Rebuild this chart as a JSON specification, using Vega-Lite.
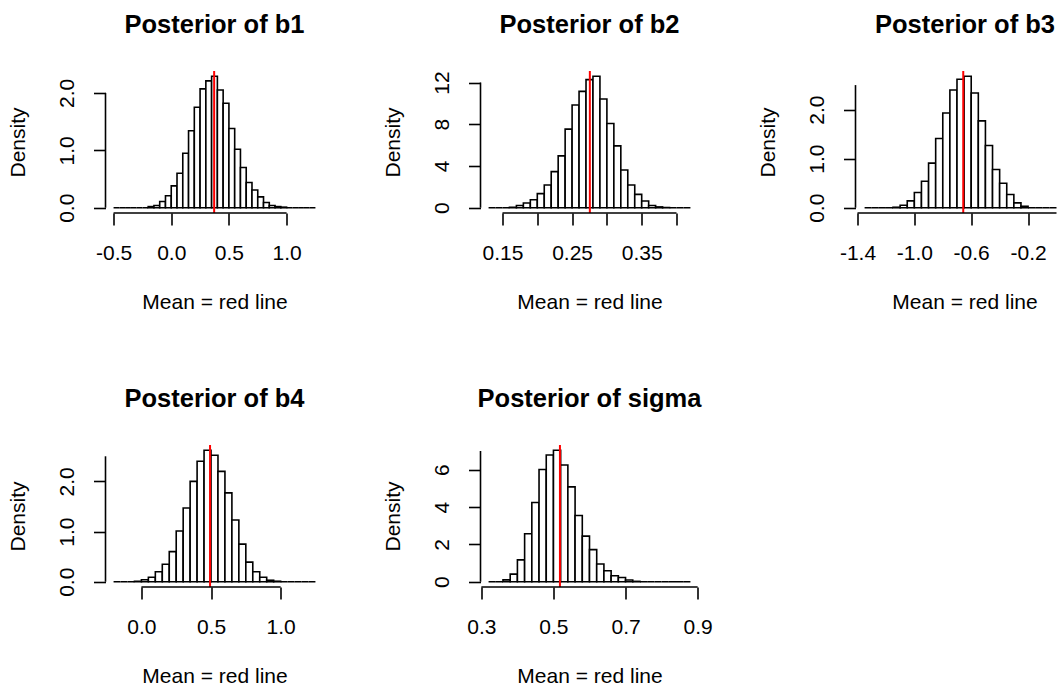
{
  "$schema": "https://vega.github.io/schema/vega-lite/v6.json",
  "background": "#ffffff",
  "padding": {"left": 6.5, "top": 12, "right": 0, "bottom": 0},
  "autosize": {"type": "pad"},
  "datasets": {
    "means": [
      {"param": "b1", "mean": 0.372},
      {"param": "b2", "mean": 0.2755},
      {"param": "b3", "mean": -0.656},
      {"param": "b4", "mean": 0.493},
      {"param": "sigma", "mean": 0.518}
    ],
    "b1": [
      {"start": -0.5, "end": -0.45, "density": 0},
      {"start": -0.45, "end": -0.4, "density": 0},
      {"start": -0.4, "end": -0.35, "density": 0},
      {"start": -0.35, "end": -0.3, "density": 0},
      {"start": -0.3, "end": -0.25, "density": 0},
      {"start": -0.25, "end": -0.2, "density": 0},
      {"start": -0.2, "end": -0.15, "density": 0.02},
      {"start": -0.15, "end": -0.1, "density": 0.04},
      {"start": -0.1, "end": -0.05, "density": 0.11},
      {"start": -0.05, "end": 0.0, "density": 0.21},
      {"start": 0.0, "end": 0.05, "density": 0.38},
      {"start": 0.05, "end": 0.1, "density": 0.6},
      {"start": 0.1, "end": 0.15, "density": 0.95},
      {"start": 0.15, "end": 0.2, "density": 1.34},
      {"start": 0.2, "end": 0.25, "density": 1.75},
      {"start": 0.25, "end": 0.3, "density": 2.07},
      {"start": 0.3, "end": 0.35, "density": 2.21},
      {"start": 0.35, "end": 0.4, "density": 2.29},
      {"start": 0.4, "end": 0.45, "density": 2.05},
      {"start": 0.45, "end": 0.5, "density": 1.82},
      {"start": 0.5, "end": 0.55, "density": 1.38},
      {"start": 0.55, "end": 0.6, "density": 1.02},
      {"start": 0.6, "end": 0.65, "density": 0.7},
      {"start": 0.65, "end": 0.7, "density": 0.44},
      {"start": 0.7, "end": 0.75, "density": 0.31},
      {"start": 0.75, "end": 0.8, "density": 0.19},
      {"start": 0.8, "end": 0.85, "density": 0.09},
      {"start": 0.85, "end": 0.9, "density": 0.04},
      {"start": 0.9, "end": 0.95, "density": 0.02},
      {"start": 0.95, "end": 1.0, "density": 0.01},
      {"start": 1.0, "end": 1.05, "density": 0},
      {"start": 1.05, "end": 1.1, "density": 0},
      {"start": 1.1, "end": 1.15, "density": 0},
      {"start": 1.15, "end": 1.2, "density": 0},
      {"start": 1.2, "end": 1.25, "density": 0}
    ],
    "b2": [
      {"start": 0.13, "end": 0.14, "density": 0},
      {"start": 0.14, "end": 0.15, "density": 0},
      {"start": 0.15, "end": 0.16, "density": 0},
      {"start": 0.16, "end": 0.17, "density": 0.04},
      {"start": 0.17, "end": 0.18, "density": 0.22},
      {"start": 0.18, "end": 0.19, "density": 0.45},
      {"start": 0.19, "end": 0.2, "density": 0.77},
      {"start": 0.2, "end": 0.21, "density": 1.35},
      {"start": 0.21, "end": 0.22, "density": 2.18},
      {"start": 0.22, "end": 0.23, "density": 3.46},
      {"start": 0.23, "end": 0.24, "density": 4.97},
      {"start": 0.24, "end": 0.25, "density": 7.53},
      {"start": 0.25, "end": 0.26, "density": 9.84},
      {"start": 0.26, "end": 0.27, "density": 11.15},
      {"start": 0.27, "end": 0.28, "density": 12.28},
      {"start": 0.28, "end": 0.29, "density": 12.6},
      {"start": 0.29, "end": 0.3, "density": 10.42},
      {"start": 0.3, "end": 0.31, "density": 8.08},
      {"start": 0.31, "end": 0.32, "density": 5.93},
      {"start": 0.32, "end": 0.33, "density": 3.62},
      {"start": 0.33, "end": 0.34, "density": 2.18},
      {"start": 0.34, "end": 0.35, "density": 1.28},
      {"start": 0.35, "end": 0.36, "density": 0.64},
      {"start": 0.36, "end": 0.37, "density": 0.22},
      {"start": 0.37, "end": 0.38, "density": 0.08},
      {"start": 0.38, "end": 0.39, "density": 0.02},
      {"start": 0.39, "end": 0.4, "density": 0},
      {"start": 0.4, "end": 0.41, "density": 0},
      {"start": 0.41, "end": 0.42, "density": 0}
    ],
    "b3": [
      {"start": -1.35, "end": -1.3, "density": 0},
      {"start": -1.3, "end": -1.25, "density": 0},
      {"start": -1.25, "end": -1.2, "density": 0},
      {"start": -1.2, "end": -1.15, "density": 0},
      {"start": -1.15, "end": -1.1, "density": 0.01},
      {"start": -1.1, "end": -1.05, "density": 0.05},
      {"start": -1.05, "end": -1.0, "density": 0.14},
      {"start": -1.0, "end": -0.95, "density": 0.31},
      {"start": -0.95, "end": -0.9, "density": 0.54},
      {"start": -0.9, "end": -0.85, "density": 0.91},
      {"start": -0.85, "end": -0.8, "density": 1.41},
      {"start": -0.8, "end": -0.75, "density": 1.93},
      {"start": -0.75, "end": -0.7, "density": 2.4},
      {"start": -0.7, "end": -0.65, "density": 2.62},
      {"start": -0.65, "end": -0.6, "density": 2.68},
      {"start": -0.6, "end": -0.55, "density": 2.34},
      {"start": -0.55, "end": -0.5, "density": 1.77},
      {"start": -0.5, "end": -0.45, "density": 1.27},
      {"start": -0.45, "end": -0.4, "density": 0.78},
      {"start": -0.4, "end": -0.35, "density": 0.5},
      {"start": -0.35, "end": -0.3, "density": 0.27},
      {"start": -0.3, "end": -0.25, "density": 0.1},
      {"start": -0.25, "end": -0.2, "density": 0.03},
      {"start": -0.2, "end": -0.15, "density": 0},
      {"start": -0.15, "end": -0.1, "density": 0},
      {"start": -0.1, "end": -0.05, "density": 0},
      {"start": -0.05, "end": 0.0, "density": 0}
    ],
    "b4": [
      {"start": -0.2, "end": -0.15, "density": 0},
      {"start": -0.15, "end": -0.1, "density": 0},
      {"start": -0.1, "end": -0.05, "density": 0},
      {"start": -0.05, "end": 0.0, "density": 0.01},
      {"start": 0.0, "end": 0.05, "density": 0.04},
      {"start": 0.05, "end": 0.1, "density": 0.09},
      {"start": 0.1, "end": 0.15, "density": 0.2},
      {"start": 0.15, "end": 0.2, "density": 0.35},
      {"start": 0.2, "end": 0.25, "density": 0.6},
      {"start": 0.25, "end": 0.3, "density": 1.01},
      {"start": 0.3, "end": 0.35, "density": 1.47},
      {"start": 0.35, "end": 0.4, "density": 2.0},
      {"start": 0.4, "end": 0.45, "density": 2.4},
      {"start": 0.45, "end": 0.5, "density": 2.62},
      {"start": 0.5, "end": 0.55, "density": 2.52},
      {"start": 0.55, "end": 0.6, "density": 2.2},
      {"start": 0.6, "end": 0.65, "density": 1.77},
      {"start": 0.65, "end": 0.7, "density": 1.23},
      {"start": 0.7, "end": 0.75, "density": 0.75},
      {"start": 0.75, "end": 0.8, "density": 0.39},
      {"start": 0.8, "end": 0.85, "density": 0.2},
      {"start": 0.85, "end": 0.9, "density": 0.09},
      {"start": 0.9, "end": 0.95, "density": 0.03},
      {"start": 0.95, "end": 1.0, "density": 0.01},
      {"start": 1.0, "end": 1.05, "density": 0},
      {"start": 1.05, "end": 1.1, "density": 0},
      {"start": 1.1, "end": 1.15, "density": 0},
      {"start": 1.15, "end": 1.2, "density": 0},
      {"start": 1.2, "end": 1.25, "density": 0}
    ],
    "sigma": [
      {"start": 0.32, "end": 0.34, "density": 0},
      {"start": 0.34, "end": 0.36, "density": 0},
      {"start": 0.36, "end": 0.38, "density": 0.1},
      {"start": 0.38, "end": 0.4, "density": 0.41},
      {"start": 0.4, "end": 0.42, "density": 1.17},
      {"start": 0.42, "end": 0.44, "density": 2.57},
      {"start": 0.44, "end": 0.46, "density": 4.24},
      {"start": 0.46, "end": 0.48, "density": 6.01},
      {"start": 0.48, "end": 0.5, "density": 6.79},
      {"start": 0.5, "end": 0.52, "density": 7.04},
      {"start": 0.52, "end": 0.54, "density": 6.25},
      {"start": 0.54, "end": 0.56, "density": 5.08},
      {"start": 0.56, "end": 0.58, "density": 3.55},
      {"start": 0.58, "end": 0.6, "density": 2.44},
      {"start": 0.6, "end": 0.62, "density": 1.72},
      {"start": 0.62, "end": 0.64, "density": 0.95},
      {"start": 0.64, "end": 0.66, "density": 0.59},
      {"start": 0.66, "end": 0.68, "density": 0.32},
      {"start": 0.68, "end": 0.7, "density": 0.23},
      {"start": 0.7, "end": 0.72, "density": 0.09},
      {"start": 0.72, "end": 0.74, "density": 0.02},
      {"start": 0.74, "end": 0.76, "density": 0},
      {"start": 0.76, "end": 0.78, "density": 0},
      {"start": 0.78, "end": 0.8, "density": 0},
      {"start": 0.8, "end": 0.82, "density": 0},
      {"start": 0.82, "end": 0.84, "density": 0},
      {"start": 0.84, "end": 0.86, "density": 0},
      {"start": 0.86, "end": 0.88, "density": 0}
    ]
  },
  "concat": [
    {
      "width": 218, "height": 142,
      "title": {"text": "Posterior of b1"},
      "layer": [
        {
          "data": {"name": "b1"},
          "mark": {"type": "rect", "fill": "#ffffff", "stroke": "#000000", "strokeWidth": 1.6},
          "encoding": {
            "x": {"field": "start", "type": "quantitative", "scale": {"domain": [-0.57, 1.32], "nice": false, "zero": false},
                  "axis": {"title": "Mean = red line", "values": [-0.5, 0, 0.5, 1.0], "labelExpr": "datum.value < 0 ? '-' + format(-datum.value, '.1f') : format(datum.value, '.1f')"}},
            "x2": {"field": "end"},
            "y": {"field": "density", "type": "quantitative", "scale": {"domain": [-0.0916, 2.3816], "nice": false, "zero": false},
                  "axis": {"title": "Density", "values": [0, 0.5, 1, 1.5, 2], "labelExpr": "datum.value % 1 == 0 ? format(datum.value, '.1f') : ''"}},
            "y2": {"datum": 0}
          }
        },
        {
          "data": {"name": "means"},
          "transform": [{"filter": "datum.param == 'b1'"}],
          "mark": {"type": "rule", "color": "#ff0000", "strokeWidth": 2},
          "encoding": {"x": {"field": "mean", "type": "quantitative"}}
        },
        {
          "data": {"name": "means"},
          "transform": [{"filter": "datum.param == 'b1'"}],
          "mark": {"type": "rule", "color": "#000000", "strokeWidth": 1.6},
          "encoding": {"x": {"datum": -0.5}, "x2": {"datum": 1.0}, "y": {"datum": -0.0916}}
        },
        {
          "data": {"name": "means"},
          "transform": [{"filter": "datum.param == 'b1'"}],
          "mark": {"type": "rule", "color": "#000000", "strokeWidth": 1.6},
          "encoding": {"x": {"datum": -0.57}, "y": {"datum": 0}, "y2": {"datum": 2.0}}
        }
      ]
    },
    {
      "width": 218, "height": 142,
      "title": {"text": "Posterior of b2"},
      "layer": [
        {
          "data": {"name": "b2"},
          "mark": {"type": "rect", "fill": "#ffffff", "stroke": "#000000", "strokeWidth": 1.6},
          "encoding": {
            "x": {"field": "start", "type": "quantitative", "scale": {"domain": [0.1184, 0.4316], "nice": false, "zero": false},
                  "axis": {"title": "Mean = red line", "values": [0.15, 0.2, 0.25, 0.3, 0.35, 0.4], "labelExpr": "round(datum.value * 100) % 10 == 5 ? format(datum.value, '.2f') : ''"}},
            "x2": {"field": "end"},
            "y": {"field": "density", "type": "quantitative", "scale": {"domain": [-0.504, 13.104], "nice": false, "zero": false},
                  "axis": {"title": "Density", "values": [0, 2, 4, 6, 8, 10, 12], "labelExpr": "datum.value % 4 == 0 ? format(datum.value, '.0f') : ''"}},
            "y2": {"datum": 0}
          }
        },
        {
          "data": {"name": "means"},
          "transform": [{"filter": "datum.param == 'b2'"}],
          "mark": {"type": "rule", "color": "#ff0000", "strokeWidth": 2},
          "encoding": {"x": {"field": "mean", "type": "quantitative"}}
        },
        {
          "data": {"name": "means"},
          "transform": [{"filter": "datum.param == 'b2'"}],
          "mark": {"type": "rule", "color": "#000000", "strokeWidth": 1.6},
          "encoding": {"x": {"datum": 0.15}, "x2": {"datum": 0.4}, "y": {"datum": -0.504}}
        },
        {
          "data": {"name": "means"},
          "transform": [{"filter": "datum.param == 'b2'"}],
          "mark": {"type": "rule", "color": "#000000", "strokeWidth": 1.6},
          "encoding": {"x": {"datum": 0.1184}, "y": {"datum": 0}, "y2": {"datum": 12}}
        }
      ]
    },
    {
      "width": 201, "height": 142,
      "title": {"text": "Posterior of b3", "dx": 9},
      "layer": [
        {
          "data": {"name": "b3"},
          "mark": {"type": "rect", "fill": "#ffffff", "stroke": "#000000", "strokeWidth": 1.6},
          "encoding": {
            "x": {"field": "start", "type": "quantitative", "scale": {"domain": [-1.414, 0.0], "nice": false, "zero": false},
                  "axis": {"title": "Mean = red line", "values": [-1.4, -1.2, -1.0, -0.8, -0.6, -0.4, -0.2, 0.0], "labelExpr": "indexof([-14, -10, -6, -2], round(datum.value * 10)) >= 0 ? '-' + format(-datum.value, '.1f') : ''"}},
            "x2": {"field": "end"},
            "y": {"field": "density", "type": "quantitative", "scale": {"domain": [-0.1072, 2.7872], "nice": false, "zero": false},
                  "axis": {"title": "Density", "values": [0, 0.5, 1, 1.5, 2, 2.5], "labelExpr": "datum.value % 1 == 0 ? format(datum.value, '.1f') : ''"}},
            "y2": {"datum": 0}
          }
        },
        {
          "data": {"name": "means"},
          "transform": [{"filter": "datum.param == 'b3'"}],
          "mark": {"type": "rule", "color": "#ff0000", "strokeWidth": 2},
          "encoding": {"x": {"field": "mean", "type": "quantitative"}}
        },
        {
          "data": {"name": "means"},
          "transform": [{"filter": "datum.param == 'b3'"}],
          "mark": {"type": "rule", "color": "#000000", "strokeWidth": 1.6},
          "encoding": {"x": {"datum": -1.4}, "x2": {"datum": 0.0}, "y": {"datum": -0.1072}}
        },
        {
          "data": {"name": "means"},
          "transform": [{"filter": "datum.param == 'b3'"}],
          "mark": {"type": "rule", "color": "#000000", "strokeWidth": 1.6},
          "encoding": {"x": {"datum": -1.414}, "y": {"datum": 0}, "y2": {"datum": 2.5}}
        }
      ]
    },
    {
      "width": 218, "height": 142,
      "title": {"text": "Posterior of b4"},
      "layer": [
        {
          "data": {"name": "b4"},
          "mark": {"type": "rect", "fill": "#ffffff", "stroke": "#000000", "strokeWidth": 1.6},
          "encoding": {
            "x": {"field": "start", "type": "quantitative", "scale": {"domain": [-0.258, 1.308], "nice": false, "zero": false},
                  "axis": {"title": "Mean = red line", "values": [0, 0.5, 1.0], "labelExpr": "format(datum.value, '.1f')"}},
            "x2": {"field": "end"},
            "y": {"field": "density", "type": "quantitative", "scale": {"domain": [-0.1048, 2.7248], "nice": false, "zero": false},
                  "axis": {"title": "Density", "values": [0, 0.5, 1, 1.5, 2, 2.5], "labelExpr": "datum.value % 1 == 0 ? format(datum.value, '.1f') : ''"}},
            "y2": {"datum": 0}
          }
        },
        {
          "data": {"name": "means"},
          "transform": [{"filter": "datum.param == 'b4'"}],
          "mark": {"type": "rule", "color": "#ff0000", "strokeWidth": 2},
          "encoding": {"x": {"field": "mean", "type": "quantitative"}}
        },
        {
          "data": {"name": "means"},
          "transform": [{"filter": "datum.param == 'b4'"}],
          "mark": {"type": "rule", "color": "#000000", "strokeWidth": 1.6},
          "encoding": {"x": {"datum": 0.0}, "x2": {"datum": 1.0}, "y": {"datum": -0.1048}}
        },
        {
          "data": {"name": "means"},
          "transform": [{"filter": "datum.param == 'b4'"}],
          "mark": {"type": "rule", "color": "#000000", "strokeWidth": 1.6},
          "encoding": {"x": {"datum": -0.258}, "y": {"datum": 0}, "y2": {"datum": 2.5}}
        }
      ]
    },
    {
      "width": 218, "height": 142,
      "title": {"text": "Posterior of sigma"},
      "layer": [
        {
          "data": {"name": "sigma"},
          "mark": {"type": "rect", "fill": "#ffffff", "stroke": "#000000", "strokeWidth": 1.6},
          "encoding": {
            "x": {"field": "start", "type": "quantitative", "scale": {"domain": [0.2976, 0.9024], "nice": false, "zero": false},
                  "axis": {"title": "Mean = red line", "values": [0.3, 0.4, 0.5, 0.6, 0.7, 0.8, 0.9], "labelExpr": "round(datum.value * 10) % 2 == 1 ? format(datum.value, '.1f') : ''"}},
            "x2": {"field": "end"},
            "y": {"field": "density", "type": "quantitative", "scale": {"domain": [-0.2816, 7.3216], "nice": false, "zero": false},
                  "axis": {"title": "Density", "values": [0, 1, 2, 3, 4, 5, 6, 7], "labelExpr": "datum.value % 2 == 0 ? format(datum.value, '.0f') : ''"}},
            "y2": {"datum": 0}
          }
        },
        {
          "data": {"name": "means"},
          "transform": [{"filter": "datum.param == 'sigma'"}],
          "mark": {"type": "rule", "color": "#ff0000", "strokeWidth": 2},
          "encoding": {"x": {"field": "mean", "type": "quantitative"}}
        },
        {
          "data": {"name": "means"},
          "transform": [{"filter": "datum.param == 'sigma'"}],
          "mark": {"type": "rule", "color": "#000000", "strokeWidth": 1.6},
          "encoding": {"x": {"datum": 0.3}, "x2": {"datum": 0.9}, "y": {"datum": -0.2816}}
        },
        {
          "data": {"name": "means"},
          "transform": [{"filter": "datum.param == 'sigma'"}],
          "mark": {"type": "rule", "color": "#000000", "strokeWidth": 1.6},
          "encoding": {"x": {"datum": 0.2976}, "y": {"datum": 0}, "y2": {"datum": 7}}
        }
      ]
    }
  ],
  "columns": 3,
  "align": "each",
  "bounds": "flush",
  "spacing": {"row": 232, "column": 157},
  "config": {
    "view": {"stroke": null},
    "font": "Liberation Sans",
    "axis": {
      "domain": false, "grid": false,
      "ticks": true, "tickColor": "#000000", "tickWidth": 1.6, "tickSize": 12,
      "labelColor": "#000000", "labelFont": "Liberation Sans", "labelFontSize": 21,
      "labelOverlap": false, "labelFlush": false,
      "titleColor": "#000000", "titleFont": "Liberation Sans", "titleFontSize": 21, "titleFontWeight": "normal"
    },
    "axisX": {
      "labelAngle": 0, "labelAlign": "center", "labelBaseline": "alphabetic", "labelPadding": 34,
      "titleX": 109, "titleY": 95, "titleAlign": "center", "titleBaseline": "alphabetic", "titleAngle": 0
    },
    "axisY": {
      "labelAngle": 270, "labelAlign": "center", "labelBaseline": "alphabetic", "labelPadding": 20,
      "titleAngle": 270, "titleX": -81.5, "titleY": 71, "titleAlign": "center", "titleBaseline": "alphabetic"
    },
    "title": {
      "font": "Liberation Sans", "fontSize": 25.5, "fontWeight": "bold", "color": "#000000",
      "baseline": "alphabetic", "offset": 32, "frame": "group", "anchor": "middle"
    }
  }
}
